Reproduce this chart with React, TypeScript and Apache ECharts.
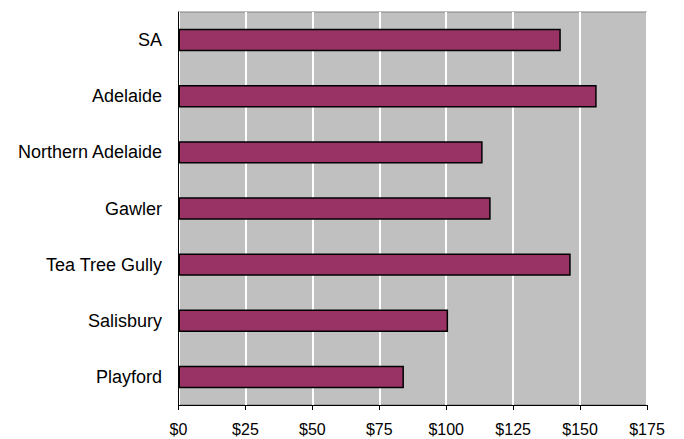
import React, { useEffect, useRef } from "react";
import * as echarts from "echarts";

const categories = ["SA", "Adelaide", "Northern Adelaide", "Gawler", "Tea Tree Gully", "Salisbury", "Playford"];
const values = [142.8, 156.2, 113.6, 116.6, 146.5, 100.7, 84.2];
const tickLabels = ["$0", "$25", "$50", "$75", "$100", "$125", "$150", "$175"];

export default function App() {
  const ref = useRef<HTMLDivElement>(null);
  useEffect(() => {
    const chart = echarts.init(ref.current!, null, { renderer: "svg" });
    chart.setOption({
      animation: false,
      backgroundColor: "#ffffff",
      grid: {
        left: 178.5,
        right: 37,
        top: 12,
        bottom: 34,
        show: true,
        backgroundColor: "#c0c0c0",
        borderColor: "#808080",
        borderWidth: 1,
        containLabel: false,
        outerBoundsMode: "none",
      },
      xAxis: {
        type: "value",
        min: 0,
        max: 175,
        interval: 25,
        axisLine: { show: true, lineStyle: { color: "#000000", width: 1 } },
        axisTick: { show: true, length: 5, lineStyle: { color: "#000000" } },
        splitLine: { show: true, lineStyle: { color: "#ffffff", width: 2 } },
        axisLabel: {
          formatter: (v: number) => tickLabels[Math.round(v / 25)],
          color: "#000000",
          fontFamily: "Liberation Sans, Arial, sans-serif",
          fontSize: 16,
          margin: 16,
          showMaxLabel: true,
        },
      },
      yAxis: {
        type: "category",
        data: categories,
        inverse: true,
        axisLine: { show: true, lineStyle: { color: "#000000", width: 1 } },
        axisTick: { show: false },
        splitLine: { show: false },
        axisLabel: {
          color: "#000000",
          fontFamily: "Liberation Sans, Arial, sans-serif",
          fontSize: 18,
          margin: 16.5,
        },
      },
      series: [
        {
          type: "bar",
          data: values,
          barWidth: "40%",
          itemStyle: { color: "#993366", borderColor: "#000000", borderWidth: 1.5 },
        },
      ],
    });
    return () => chart.dispose();
  }, []);
  return <div ref={ref} style={{ width: 684, height: 439, position: "absolute", left: 0, top: 0 }} />;
}
